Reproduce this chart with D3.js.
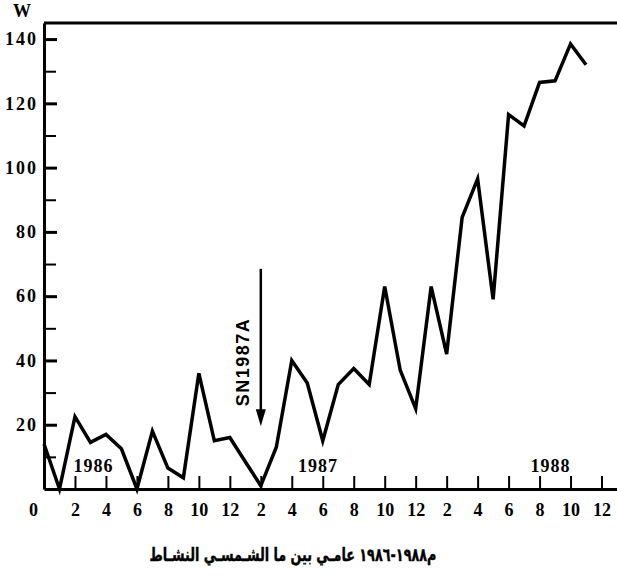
<!DOCTYPE html>
<html lang="ar">
<head>
<meta charset="utf-8">
<title>Solar activity 1986-1988</title>
<script src="https://d3js.org/d3.v7.min.js"></script>
<style>
  body { margin: 0; background: #fff; }
  .tick text { font-family: "Liberation Serif", "DejaVu Serif", serif; font-weight: bold; font-size: 18px; fill: #000; }
  .domain { stroke: #000; stroke-width: 3px; }
</style>
</head>
<body>
<div id="chart"></div>
<script>
// month index from Jan 1986 (0) and monthly solar activity W
const months = [0, 1, 2, 3, 4, 5, 6, 7, 8, 9, 10, 11, 12, 13, 14, 15, 16, 17,
  18, 19, 20, 21, 22, 23, 24, 25, 26, 27, 28, 29, 30, 31, 32, 33, 34, 35];
const solarW = [14, 0, 22.5, 14.5, 17, 12.5, 0, 18, 6.5, 3.5, 36, 15, 16, 8.5, 1, 13, 40, 33,
  15, 32.5, 37.5, 32.5, 63, 37, 25, 63, 42, 84.5, 96.5, 59, 116.5, 113, 126.5, 127, 138.5, 132];

const xTickMonths = [0, 2, 4, 6, 8, 10, 12, 14, 16, 18, 20, 22, 24, 26, 28, 30, 32, 34, 36];
const xTickLabels = ["0", "2", "4", "6", "8", "10", "12", "2", "4", "6", "8", "10", "12",
  "2", "4", "6", "8", "10", "12"];
const yMajorTicks = [20, 40, 60, 80, 100, 120, 140];
const yMinorTicks = [10, 30, 50, 70, 90, 110, 130];

const years = ["1986", "1987", "1988"];
const yearMonths = [3.2, 17.7, 32.7];

const arrowNote = { label: "SN1987A", month: 14, from: 68.5, to: 19.5, textAt: 39.5 };

// caption pieces in the order they are printed, left to right
const captionParts = ["النشـاط", "الشـمسـي", "ما", "بين", "عامـي", "١٩٨٦", "-", "١٩٨٨", "م"];
const captionSpaceAfter = [true, true, true, true, true, false, false, false, false];

const width = 617, height = 576;
const margin = { top: 23, right: 0, bottom: 87, left: 44 };
const w = width - margin.left - margin.right;
const h = height - margin.top - margin.bottom;

const svg = d3.select("#chart").append("svg")
  .attr("width", width)
  .attr("height", height);

const g = svg.append("g")
  .attr("transform", "translate(" + margin.left + "," + margin.top + ")");

const x = d3.scaleLinear().domain([0, 37]).range([0, w]);
const y = d3.scaleLinear().domain([0, 145]).range([h, 0]);

// y axis, ticks point into the plot
const yAxis = g.append("g")
  .call(d3.axisLeft(y).tickValues(yMajorTicks).tickSize(-13).tickSizeOuter(0).tickPadding(6));
yAxis.selectAll(".tick line").attr("stroke", "#000").attr("stroke-width", 3);
yAxis.selectAll(".tick text").attr("letter-spacing", "2px");

const yMinor = g.append("g")
  .call(d3.axisLeft(y).tickValues(yMinorTicks).tickSize(-12).tickFormat(""));
yMinor.select(".domain").remove();
yMinor.selectAll(".tick line").attr("stroke", "#000").attr("stroke-width", 2);

// top frame line
g.append("line")
  .attr("x1", x(0)).attr("x2", x(37))
  .attr("y1", y(145)).attr("y2", y(145))
  .attr("stroke", "#000").attr("stroke-width", 3);

// x axis
const xAxis = g.append("g")
  .attr("transform", "translate(0," + h + ")")
  .call(d3.axisBottom(x).tickValues(xTickMonths).tickSize(-13).tickSizeOuter(0).tickPadding(14)
    .tickFormat((d, i) => xTickLabels[i]));
xAxis.selectAll(".tick line").attr("stroke", "#000").attr("stroke-width", 2);
xAxis.selectAll(".tick text").attr("dx", d => d === 0 ? -11 : 0);

// year labels
g.selectAll(".year")
  .data(years)
  .enter().append("text")
  .attr("class", "year")
  .attr("x", (d, i) => x(yearMonths[i]))
  .attr("y", y(0) - 17)
  .attr("text-anchor", "middle")
  .attr("letter-spacing", "1px")
  .style("font-family", "'Liberation Serif', serif")
  .style("font-weight", "bold")
  .style("font-size", "18px")
  .text(d => d);

// data line
const line = d3.line()
  .x((d, i) => x(months[i]))
  .y(d => y(d));

g.append("path")
  .datum(solarW)
  .attr("d", line)
  .attr("fill", "none")
  .attr("stroke", "#000")
  .attr("stroke-width", 3.5)
  .attr("stroke-linejoin", "miter");

// supernova arrow
const ax = x(arrowNote.month);
g.append("line")
  .attr("x1", ax).attr("x2", ax)
  .attr("y1", y(arrowNote.from)).attr("y2", y(arrowNote.to) - 12)
  .attr("stroke", "#000").attr("stroke-width", 2.5);
g.append("path")
  .attr("d", "M" + (ax - 5) + "," + (y(arrowNote.to) - 17) +
    "L" + (ax + 5) + "," + (y(arrowNote.to) - 17) +
    "L" + ax + "," + y(arrowNote.to) + "Z")
  .attr("fill", "#000");
g.append("text")
  .attr("transform", "translate(" + (ax - 12) + "," + y(arrowNote.textAt) + ") rotate(-90)")
  .attr("text-anchor", "middle")
  .attr("letter-spacing", "1.5px")
  .style("font-family", "'Liberation Sans', Arial, sans-serif")
  .style("font-weight", "bold")
  .style("font-size", "18px")
  .text(arrowNote.label);

// W label
svg.append("text")
  .attr("x", 22).attr("y", 17)
  .attr("text-anchor", "middle")
  .style("font-family", "'Liberation Serif', serif")
  .style("font-weight", "bold")
  .style("font-size", "18px")
  .text("W");

// caption: each piece is its own text so the printed left-to-right order is kept
const cap = svg.append("g");
const pieces = cap.selectAll("text")
  .data(captionParts)
  .enter().append("text")
  .attr("y", 0)
  .attr("fill", "#000")
  .attr("stroke", "#000")
  .attr("stroke-width", 0.4)
  .style("font-family", "'DejaVu Sans', sans-serif")
  .style("font-weight", "bold")
  .style("font-size", "18px")
  .text(d => d);

const spaceW = 6;
const lens = pieces.nodes().map(n => n.getComputedTextLength());
const total = d3.sum(lens) + spaceW * captionSpaceAfter.filter(s => s).length;
let cx = 0;
pieces.each(function (d, i) {
  d3.select(this).attr("x", cx);
  cx += lens[i] + (captionSpaceAfter[i] ? spaceW : 0);
});
const sx = 287 / total;
cap.attr("transform", "translate(" + (293 - 287 / 2) + ",561) scale(" + sx + ",1)");
</script>
</body>
</html>
